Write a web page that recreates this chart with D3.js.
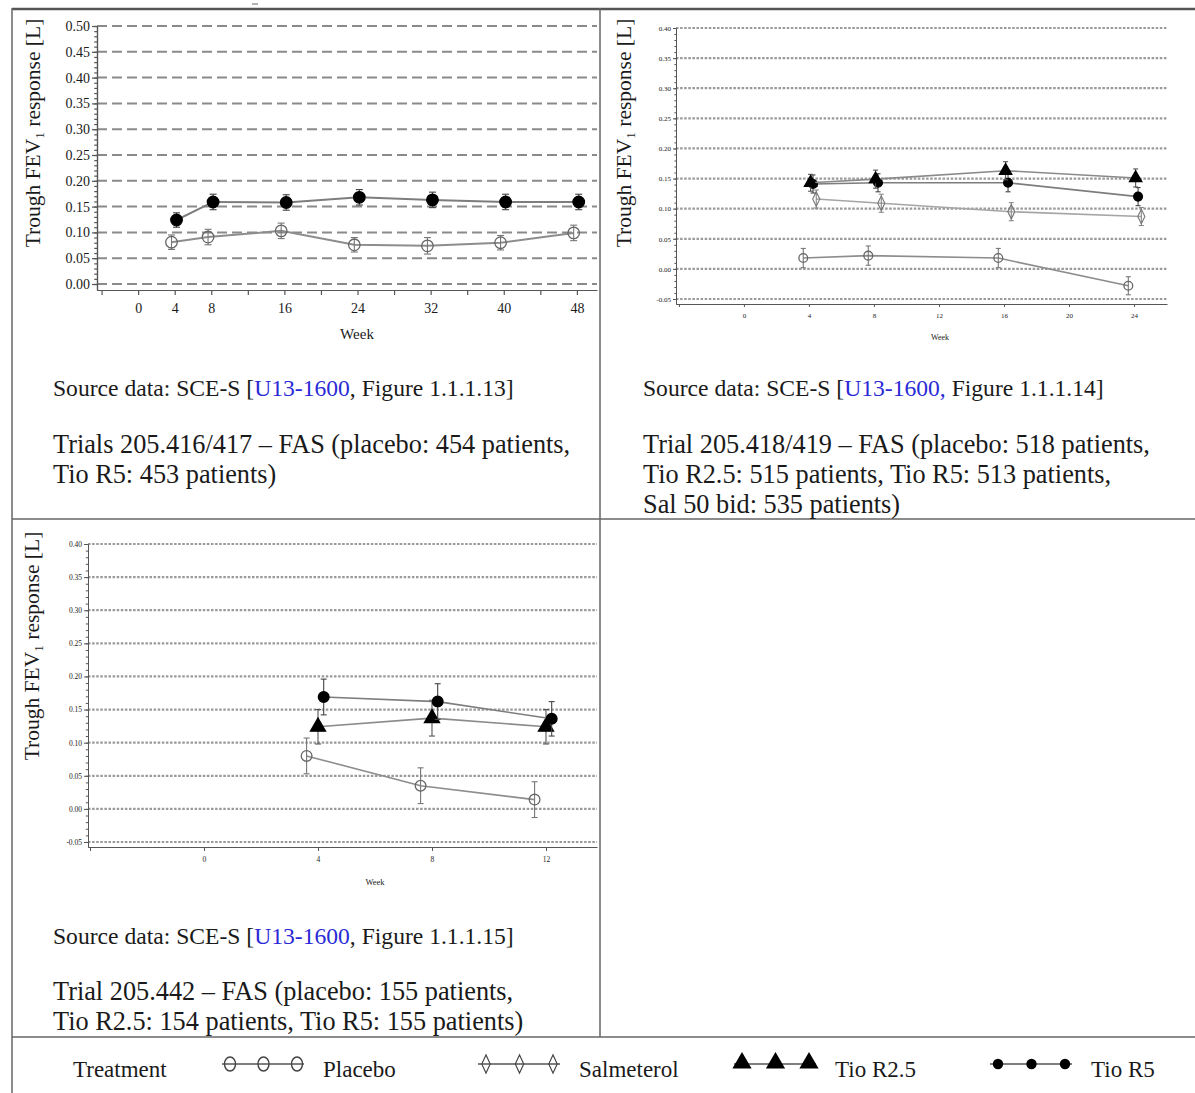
<!DOCTYPE html>
<html>
<head>
<meta charset="utf-8">
<script src="https://cdn.jsdelivr.net/npm/d3@7"></script>
<style>
  body { margin: 0; background: #fff; }
  svg text { font-family: "Liberation Serif", "Times New Roman", serif; fill: #1a1a1a; }
</style>
</head>
<body>
<svg id="chart" width="1195" height="1093"></svg>
<script>
// ---- data ----------------------------------------------------------
// Trials 205.416/417
const p1Weeks      = [4, 8, 16, 24, 32, 40, 48];
const p1Placebo    = [0.081, 0.091, 0.103, 0.076, 0.074, 0.080, 0.099];
const p1PlaceboErr = [0.014, 0.015, 0.015, 0.014, 0.016, 0.014, 0.015];
const p1TioR5      = [0.124, 0.159, 0.158, 0.168, 0.163, 0.159, 0.159];
const p1TioR5Err   = [0.014, 0.015, 0.015, 0.015, 0.015, 0.015, 0.015];
const p1YTicks     = [0, 0.05, 0.10, 0.15, 0.20, 0.25, 0.30, 0.35, 0.40, 0.45, 0.50];
const p1XTicks     = [-4, 0, 4, 8, 12, 16, 20, 24, 28, 32, 36, 40, 44, 48];
const p1XLabels    = [0, 4, 8, 16, 24, 32, 40, 48];

// Trial 205.418/419
const p2Weeks         = [4, 8, 16, 24];
const p2Placebo       = [0.018, 0.022, 0.018, -0.028];
const p2PlaceboErr    = [0.016, 0.016, 0.016, 0.015];
const p2Salmeterol    = [0.116, 0.109, 0.095, 0.087];
const p2SalmeterolErr = [0.015, 0.015, 0.015, 0.015];
const p2TioR25        = [0.143, 0.149, 0.163, 0.151];
const p2TioR25Err     = [0.014, 0.015, 0.015, 0.015];
const p2TioR5         = [0.141, 0.143, 0.143, 0.120];
const p2TioR5Err      = [0.015, 0.015, 0.015, 0.015];
const p2YTicks        = [-0.05, 0, 0.05, 0.10, 0.15, 0.20, 0.25, 0.30, 0.35, 0.40];
const p2XTicks        = [-4, 0, 4, 8, 12, 16, 20, 24];
const p2XLabels       = [0, 4, 8, 12, 16, 20, 24];

// Trial 205.442
const p3Weeks      = [4, 8, 12];
const p3Placebo    = [0.080, 0.035, 0.014];
const p3PlaceboErr = [0.027, 0.027, 0.027];
const p3TioR25     = [0.124, 0.137, 0.124];
const p3TioR25Err  = [0.026, 0.027, 0.026];
const p3TioR5      = [0.169, 0.162, 0.136];
const p3TioR5Err   = [0.027, 0.027, 0.026];
const p3YTicks     = [-0.05, 0, 0.05, 0.10, 0.15, 0.20, 0.25, 0.30, 0.35, 0.40];
const p3XTicks     = [-4, 0, 4, 8, 12];
const p3XLabels    = [0, 4, 8, 12];

const legendLabels = ["Placebo", "Salmeterol", "Tio R2.5", "Tio R5"];

// ---- marker styles per treatment ------------------------------------
const STYLE = {
  placebo:    { sym: d3.symbolCircle,   fill: "none", stroke: "#666", line: "#8d8d8d", err: "#777" },
  salmeterol: { sym: d3.symbolDiamond,  fill: "none", stroke: "#777", line: "#a5a5a5", err: "#888" },
  tioR25:     { sym: d3.symbolTriangle, fill: "#000", stroke: "#000", line: "#8a8a8a", err: "#555" },
  tioR5:      { sym: d3.symbolCircle,   fill: "#000", stroke: "#000", line: "#7d7d7d", err: "#444" }
};

const svg = d3.select("#chart");

// ---- table frame ----------------------------------------------------
const frame = svg.append("g").attr("stroke", "#666").attr("fill", "none");
frame.append("line").attr("x1", 12).attr("x2", 1195).attr("y1", 9).attr("y2", 9).attr("stroke-width", 2.5).attr("stroke", "#555");
frame.append("line").attr("x1", 12).attr("x2", 12).attr("y1", 8).attr("y2", 1093).attr("stroke-width", 1.5);
frame.append("line").attr("x1", 600).attr("x2", 600).attr("y1", 8).attr("y2", 1037).attr("stroke-width", 1.5);
frame.append("line").attr("x1", 12).attr("x2", 1195).attr("y1", 519).attr("y2", 519).attr("stroke-width", 1.5);
frame.append("line").attr("x1", 12).attr("x2", 1195).attr("y1", 1037).attr("y2", 1037).attr("stroke-width", 1.5);
frame.append("line").attr("x1", 252).attr("x2", 258).attr("y1", 4).attr("y2", 4).attr("stroke-width", 1);

// ---- panel drawing --------------------------------------------------
function drawPanel(cfg) {
  const g = svg.append("g");
  const x = d3.scaleLinear().domain(cfg.xDomain).range(cfg.xRange);
  const y = d3.scaleLinear().domain(cfg.yDomain).range(cfg.yRange);
  const axisPos = y(cfg.yDomain[0]) + cfg.axisGap;
  const yAx = y.copy().domain([y.invert(axisPos), cfg.yDomain[1]]).range([axisPos, cfg.yRange[1]]);

  // dashed gridlines
  g.append("g").selectAll("line").data(cfg.yTicks).join("line")
    .attr("x1", cfg.xRange[0]).attr("x2", cfg.xRange[1])
    .attr("y1", d => y(d)).attr("y2", d => y(d))
    .attr("stroke", cfg.gridColor).attr("stroke-width", cfg.gridWidth)
    .attr("stroke-dasharray", cfg.gridDash);

  // x axis
  const xa = g.append("g").attr("transform", `translate(0,${axisPos})`)
    .call(d3.axisBottom(x).tickValues(cfg.xTicks).tickSize(cfg.tick).tickSizeOuter(0)
      .tickPadding(cfg.xPad).tickFormat(d => cfg.xLabels.includes(d) ? d : ""));
  xa.selectAll("text").attr("font-size", cfg.tickFs);

  // y axis: minor + major
  const minor = d3.range(cfg.yDomain[0], cfg.yDomain[1] + 0.001, 0.01);
  g.append("g").attr("transform", `translate(${cfg.xRange[0]},0)`)
    .call(d3.axisLeft(yAx).tickValues(minor).tickSize(cfg.tick * 0.55).tickSizeOuter(0).tickFormat(""));
  const ya = g.append("g").attr("transform", `translate(${cfg.xRange[0]},0)`)
    .call(d3.axisLeft(yAx).tickValues(cfg.yTicks).tickSize(cfg.tick).tickSizeOuter(0)
      .tickPadding(cfg.yPad).tickFormat(d => d.toFixed(2)));
  ya.selectAll("text").attr("font-size", cfg.tickFs);
  g.selectAll(".domain, .tick line").attr("stroke", "#555").attr("stroke-width", cfg.axisWidth);

  // axis titles
  const yl = g.append("text")
    .attr("transform", `translate(${cfg.yLabel[0]},${cfg.yLabel[1]}) rotate(-90)`)
    .attr("text-anchor", "middle").attr("font-size", cfg.yLabelFs);
  yl.append("tspan").text("Trough FEV");
  yl.append("tspan").attr("font-size", cfg.yLabelFs * 0.62).attr("dy", cfg.yLabelFs * 0.2).text("1");
  yl.append("tspan").attr("dy", -cfg.yLabelFs * 0.2).text(" response [L]");

  g.append("text").attr("x", cfg.weekLabel[0]).attr("y", cfg.weekLabel[1])
    .attr("text-anchor", "middle").attr("font-size", cfg.weekFs).text("Week");

  // series
  cfg.series.forEach(s => {
    const st = STYLE[s.key];
    const pts = s.weeks.map((w, i) => ({ px: x(w + s.offset), v: s.values[i], e: s.errors[i] }));

    g.append("path").datum(pts)
      .attr("d", d3.line().x(d => d.px).y(d => y(d.v)))
      .attr("fill", "none").attr("stroke", st.line).attr("stroke-width", cfg.lineWidth);

    const eb = g.append("g").attr("stroke", st.err).attr("stroke-width", 1.1);
    eb.selectAll("line.v").data(pts).join("line").attr("class", "v")
      .attr("x1", d => d.px).attr("x2", d => d.px)
      .attr("y1", d => y(d.v - d.e)).attr("y2", d => y(d.v + d.e));
    eb.selectAll("line.t").data(pts).join("line").attr("class", "t")
      .attr("x1", d => d.px - cfg.cap).attr("x2", d => d.px + cfg.cap)
      .attr("y1", d => y(d.v + d.e)).attr("y2", d => y(d.v + d.e));
    eb.selectAll("line.b").data(pts).join("line").attr("class", "b")
      .attr("x1", d => d.px - cfg.cap).attr("x2", d => d.px + cfg.cap)
      .attr("y1", d => y(d.v - d.e)).attr("y2", d => y(d.v - d.e));

    g.append("g").selectAll("path").data(pts).join("path")
      .attr("transform", d => `translate(${d.px},${y(d.v)})` + (s.key === "salmeterol" ? " scale(0.85,1)" : ""))
      .attr("d", d3.symbol(st.sym, s.key === "tioR25" ? cfg.markSize * 1.1 : cfg.markSize))
      .attr("fill", st.fill).attr("stroke", st.stroke).attr("stroke-width", 1.3);
  });
}

drawPanel({
  xDomain: [-4.5, 50.2], xRange: [97, 597],
  yDomain: [0, 0.5], yRange: [284, 26], axisGap: 6,
  yTicks: p1YTicks, xTicks: p1XTicks, xLabels: p1XLabels,
  gridColor: "#8a8a8a", gridWidth: 2, gridDash: "10,5",
  tick: 5, xPad: 8, yPad: 2, tickFs: 14, axisWidth: 1.2,
  yLabel: [40, 133], yLabelFs: 21.5, weekLabel: [357, 339], weekFs: 15,
  lineWidth: 2, cap: 3.5, markSize: 105,
  series: [
    { key: "placebo", weeks: p1Weeks, values: p1Placebo, errors: p1PlaceboErr, offset: -0.35 },
    { key: "tioR5",   weeks: p1Weeks, values: p1TioR5,   errors: p1TioR5Err,   offset: 0.2 }
  ]
});

drawPanel({
  xDomain: [-4.18, 26.03], xRange: [676, 1167],
  yDomain: [-0.05, 0.40], yRange: [299, 28], axisGap: 5,
  yTicks: p2YTicks, xTicks: p2XTicks, xLabels: p2XLabels,
  gridColor: "#9a9a9a", gridWidth: 2.2, gridDash: "2.5,1.6",
  tick: 3, xPad: 6, yPad: 2, tickFs: 7, axisWidth: 1,
  yLabel: [631, 133], yLabelFs: 21.5, weekLabel: [940, 340], weekFs: 8,
  lineWidth: 1.6, cap: 2.5, markSize: 60,
  series: [
    { key: "placebo",    weeks: p2Weeks, values: p2Placebo,    errors: p2PlaceboErr,    offset: -0.35 },
    { key: "salmeterol", weeks: p2Weeks, values: p2Salmeterol, errors: p2SalmeterolErr, offset: 0.45 },
    { key: "tioR5",      weeks: p2Weeks, values: p2TioR5,      errors: p2TioR5Err,      offset: 0.25 },
    { key: "tioR25",     weeks: p2Weeks, values: p2TioR25,     errors: p2TioR25Err,     offset: 0.1 }
  ]
});

drawPanel({
  xDomain: [-4.07, 13.79], xRange: [88, 597],
  yDomain: [-0.05, 0.40], yRange: [842, 544], axisGap: 5,
  yTicks: p3YTicks, xTicks: p3XTicks, xLabels: p3XLabels,
  gridColor: "#9a9a9a", gridWidth: 2.2, gridDash: "2.5,1.6",
  tick: 4, xPad: 6, yPad: 2, tickFs: 7.5, axisWidth: 1,
  yLabel: [39, 646], yLabelFs: 21.5, weekLabel: [375, 885], weekFs: 8.5,
  lineWidth: 1.6, cap: 3, markSize: 90,
  series: [
    { key: "placebo", weeks: p3Weeks, values: p3Placebo, errors: p3PlaceboErr, offset: -0.4 },
    { key: "tioR25",  weeks: p3Weeks, values: p3TioR25,  errors: p3TioR25Err,  offset: 0 },
    { key: "tioR5",   weeks: p3Weeks, values: p3TioR5,   errors: p3TioR5Err,   offset: 0.2 }
  ]
});

// ---- captions -------------------------------------------------------
function source(x, y, fig, blueComma) {
  const t = svg.append("text").attr("x", x).attr("y", y).attr("font-size", 23.6);
  t.append("tspan").text("Source data: SCE-S [");
  t.append("tspan").attr("style", "fill:#2a2ad6").text(blueComma ? "U13-1600," : "U13-1600");
  t.append("tspan").text((blueComma ? "" : ",") + " Figure " + fig + "]");
}
function lines(x, y0, arr) {
  arr.forEach((s, i) => svg.append("text").attr("x", x).attr("y", y0 + i * 30)
    .attr("font-size", 26.3).text(s));
}
source(53, 396, "1.1.1.13", false);
lines(53, 453, ["Trials 205.416/417 \u2013 FAS (placebo: 454 patients,", "Tio R5: 453 patients)"]);
source(643, 396, "1.1.1.14", true);
lines(643, 453, ["Trial 205.418/419 \u2013 FAS (placebo: 518 patients,",
  "Tio R2.5: 515 patients, Tio R5: 513 patients,", "Sal 50 bid: 535 patients)"]);
source(53, 944, "1.1.1.15", false);
lines(53, 1000, ["Trial 205.442 \u2013 FAS (placebo: 155 patients,", "Tio R2.5: 154 patients, Tio R5: 155 patients)"]);

// ---- legend ---------------------------------------------------------
const legKeys = ["placebo", "salmeterol", "tioR25", "tioR5"];
const leg = svg.append("g");
leg.append("text").attr("x", 73).attr("y", 1077).attr("font-size", 23).text("Treatment");
legendLabels.forEach((lab, i) => {
  const x0 = 222 + i * 256, ly = 1064;
  const key = legKeys[i];
  leg.append("line").attr("x1", x0).attr("x2", x0 + 82).attr("y1", ly).attr("y2", ly)
    .attr("stroke", "#555").attr("stroke-width", 1.5);
  [0, 1, 2].forEach(k => {
    const cx = x0 + 8 + k * 33.5;
    if (key === "placebo") {
      leg.append("ellipse").attr("cx", cx).attr("cy", ly).attr("rx", 5.5).attr("ry", 7)
        .attr("fill", "none").attr("stroke", "#444").attr("stroke-width", 1.4);
    } else if (key === "salmeterol") {
      leg.append("path").attr("transform", `translate(${cx},${ly}) scale(0.8,1)`)
        .attr("d", d3.symbol(d3.symbolDiamond, 95)).attr("fill", "none").attr("stroke", "#444").attr("stroke-width", 1.4);
    } else if (key === "tioR25") {
      leg.append("path").attr("transform", `translate(${cx},${ly - 1})`)
        .attr("d", d3.symbol(d3.symbolTriangle, 160)).attr("fill", "#000");
    } else {
      leg.append("path").attr("transform", `translate(${cx},${ly})`)
        .attr("d", d3.symbol(d3.symbolCircle, 85)).attr("fill", "#000");
    }
  });
  leg.append("text").attr("x", x0 + 101).attr("y", 1077).attr("font-size", 23).text(lab);
});
</script>
</body>
</html>
